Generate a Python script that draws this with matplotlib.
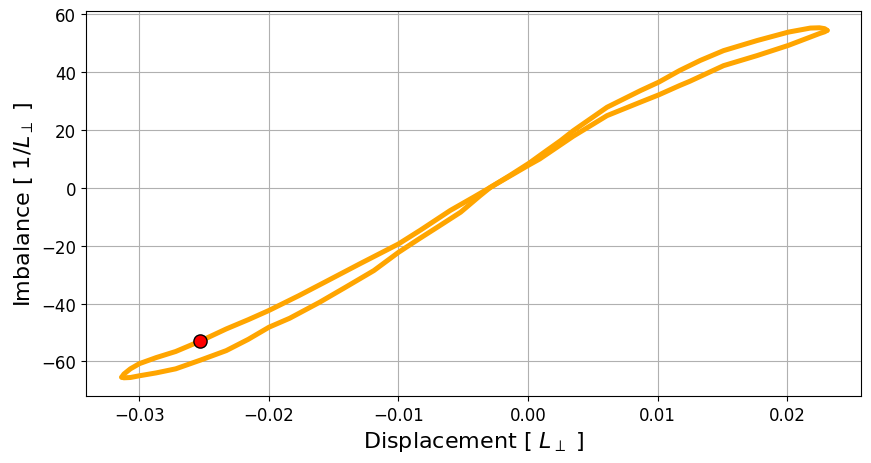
import matplotlib
matplotlib.use("Agg")
import matplotlib.pyplot as plt

# Branch that runs along the top on the left side (left tip -> right tip)
upper_x = [-0.03137, -0.0312, -0.0307, -0.0300, -0.0287, -0.0272, -0.0253, -0.0233,
           -0.0216, -0.0200, -0.0177, -0.0156, -0.0130, -0.0100, -0.0083, -0.0060,
           -0.0042, -0.0029, -0.0014, 0.0001, 0.0014, 0.0025, 0.0035, 0.0061,
           0.0087, 0.0101, 0.0117, 0.0133, 0.0151, 0.0177, 0.0201, 0.0218,
           0.0225, 0.0229, 0.0231]
upper_y = [-65.5, -64.4, -62.6, -60.8, -58.7, -56.6, -53.0, -48.8,
           -45.6, -42.4, -37.3, -32.4, -26.3, -19.4, -14.6, -7.8,
           -3.2, 0.2, 4.3, 8.6, 12.8, 16.3, 19.8, 27.9,
           33.7, 36.6, 40.6, 44.1, 47.5, 51.0, 53.9, 55.3,
           55.4, 55.1, 54.5]

# Branch that runs along the bottom on the left side (left tip -> right tip)
lower_x = [-0.03137, -0.0312, -0.0307, -0.0300, -0.0287, -0.0272, -0.0253, -0.0233,
           -0.0216, -0.0200, -0.0184, -0.0161, -0.0141, -0.0119, -0.0100, -0.0084,
           -0.0070, -0.0052, -0.0037, -0.0029, -0.0014, 0.0001, 0.0009, 0.0035,
           0.0061, 0.0087, 0.0101, 0.0117, 0.0125, 0.0151, 0.0177, 0.0201,
           0.0218, 0.0225, 0.0229, 0.0231]
lower_y = [-65.5, -65.7, -65.6, -65.0, -64.0, -62.6, -59.6, -56.3,
           -52.4, -48.2, -45.1, -39.6, -34.4, -28.6, -22.3, -17.6,
           -13.6, -8.4, -2.7, 0.2, 4.1, 8.0, 10.0, 17.9,
           25.0, 29.7, 32.2, 35.4, 36.9, 42.3, 45.8, 49.3,
           52.2, 53.4, 54.0, 54.5]

# Highlighted current point
marker_x = [-0.0253]
marker_y = [-53.0]

fig = plt.figure(figsize=(8.71, 4.64), dpi=100)
ax = fig.add_axes([0.0987, 0.1444, 0.8898, 0.8297])

for xs, ys in [(upper_x, upper_y), (lower_x, lower_y)]:
    ax.plot(xs, ys, '-', color='orange', lw=3.6, solid_capstyle='round',
            solid_joinstyle='round', zorder=2)

ax.plot(marker_x, marker_y, 'o', markerfacecolor='red', markeredgecolor='black',
        markersize=9.5, markeredgewidth=1.0, zorder=3)

ax.set_xlim(-0.03413, 0.02571)
ax.set_ylim(-72.0, 61.2)
ax.set_xticks([-0.03, -0.02, -0.01, 0.00, 0.01, 0.02])
ax.set_yticks([-60, -40, -20, 0, 20, 40, 60])
ax.grid(True, color='#b0b0b0', lw=0.8)
ax.set_axisbelow(True)
ax.tick_params(labelsize=12)
ax.set_xlabel(r'Displacement [ $L_\perp$ ]', fontsize=16)
ax.set_ylabel(r'Imbalance [ $1/L_\perp$ ]', fontsize=16)

fig.savefig('out.png', dpi=100)
